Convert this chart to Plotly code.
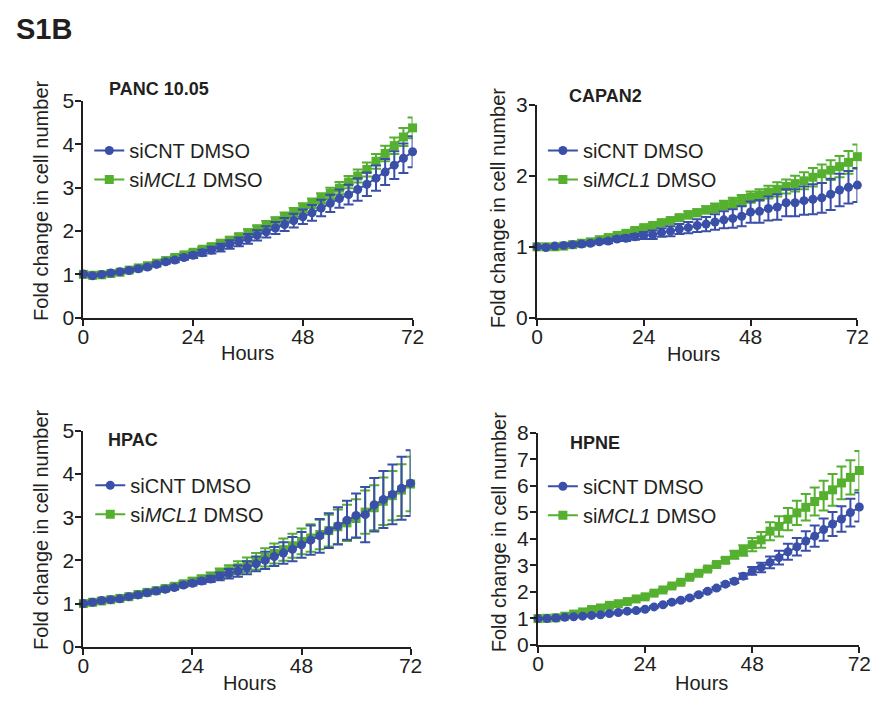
import plotly.graph_objects as go

W, H = 887, 709

hours = [0, 2, 4, 6, 8, 10, 12, 14, 16, 18, 20, 22, 24, 26, 28, 30, 32, 34, 36,
         38, 40, 42, 44, 46, 48, 50, 52, 54, 56, 58, 60, 62, 64, 66, 68, 70, 72]
x_ticks = [0, 24, 48, 72]

series_names = ["siCNT DMSO", "si<i>MCL1</i> DMSO"]
panel_titles = ["PANC 10.05", "CAPAN2", "HPAC", "HPNE"]
y_max = [5, 3, 5, 8]

# PANC 10.05
panc_cnt = [1.01, 0.97, 1.00, 1.03, 1.06, 1.09, 1.13, 1.17, 1.23, 1.29, 1.33, 1.39, 1.44,
            1.50, 1.56, 1.62, 1.69, 1.75, 1.82, 1.90, 1.98, 2.07, 2.15, 2.24, 2.33, 2.42,
            2.53, 2.64, 2.75, 2.84, 2.96, 3.08, 3.22, 3.36, 3.52, 3.68, 3.83]
panc_cnt_err = [0.02, 0.02, 0.02, 0.02, 0.02, 0.03, 0.03, 0.03, 0.04, 0.04, 0.05, 0.05, 0.06,
                0.07, 0.08, 0.09, 0.10, 0.10, 0.11, 0.12, 0.13, 0.14, 0.15, 0.16, 0.17, 0.18,
                0.19, 0.20, 0.21, 0.23, 0.26, 0.27, 0.29, 0.30, 0.32, 0.34, 0.36]
panc_mcl = [1.00, 0.98, 0.99, 1.02, 1.05, 1.10, 1.15, 1.20, 1.26, 1.32, 1.39, 1.45, 1.51,
            1.58, 1.64, 1.72, 1.79, 1.87, 1.96, 2.05, 2.14, 2.23, 2.33, 2.43, 2.53, 2.64,
            2.75, 2.87, 2.99, 3.13, 3.27, 3.42, 3.61, 3.79, 3.97, 4.17, 4.38]
panc_mcl_err = [0.01, 0.01, 0.01, 0.02, 0.02, 0.02, 0.03, 0.03, 0.03, 0.04, 0.04, 0.04, 0.05,
                0.05, 0.06, 0.06, 0.07, 0.07, 0.08, 0.08, 0.09, 0.09, 0.10, 0.10, 0.11, 0.11,
                0.12, 0.13, 0.14, 0.14, 0.15, 0.16, 0.17, 0.18, 0.19, 0.21, 0.24]

# CAPAN2
capan_cnt = [1.00, 0.99, 1.01, 1.02, 1.03, 1.04, 1.05, 1.07, 1.08, 1.11, 1.12, 1.14, 1.16,
             1.17, 1.20, 1.22, 1.25, 1.27, 1.30, 1.32, 1.35, 1.38, 1.40, 1.43, 1.49, 1.50,
             1.54, 1.56, 1.62, 1.62, 1.65, 1.67, 1.69, 1.74, 1.80, 1.84, 1.87]
capan_cnt_err = [0.01, 0.01, 0.01, 0.01, 0.02, 0.02, 0.02, 0.02, 0.03, 0.03, 0.04, 0.04, 0.05,
                 0.06, 0.06, 0.07, 0.07, 0.08, 0.09, 0.10, 0.11, 0.12, 0.13, 0.14, 0.15, 0.16,
                 0.17, 0.18, 0.19, 0.19, 0.20, 0.21, 0.21, 0.22, 0.23, 0.23, 0.24]
capan_mcl = [1.00, 1.00, 1.00, 1.01, 1.03, 1.05, 1.07, 1.10, 1.13, 1.16, 1.19, 1.23, 1.27,
             1.30, 1.34, 1.37, 1.41, 1.45, 1.48, 1.52, 1.55, 1.59, 1.62, 1.66, 1.70, 1.73,
             1.77, 1.81, 1.85, 1.89, 1.93, 1.98, 2.03, 2.08, 2.13, 2.19, 2.27]
capan_mcl_err = [0.01, 0.01, 0.01, 0.01, 0.01, 0.01, 0.02, 0.02, 0.02, 0.02, 0.03, 0.03, 0.03,
                 0.03, 0.04, 0.04, 0.04, 0.05, 0.05, 0.05, 0.06, 0.06, 0.07, 0.07, 0.08, 0.08,
                 0.09, 0.10, 0.10, 0.11, 0.12, 0.13, 0.13, 0.14, 0.15, 0.16, 0.17]

# HPAC
hpac_cnt = [1.00, 1.03, 1.07, 1.09, 1.11, 1.16, 1.20, 1.25, 1.29, 1.33, 1.37, 1.43, 1.47,
            1.52, 1.57, 1.63, 1.69, 1.75, 1.83, 1.92, 2.00, 2.09, 2.17, 2.26, 2.36, 2.47,
            2.57, 2.69, 2.80, 2.93, 3.04, 3.06, 3.29, 3.41, 3.53, 3.67, 3.79]
hpac_cnt_err = [0.02, 0.02, 0.02, 0.02, 0.02, 0.03, 0.03, 0.03, 0.03, 0.04, 0.04, 0.04, 0.05,
                0.06, 0.07, 0.09, 0.11, 0.13, 0.15, 0.17, 0.20, 0.22, 0.25, 0.28, 0.30, 0.34,
                0.39, 0.40, 0.43, 0.45, 0.51, 0.64, 0.62, 0.66, 0.69, 0.73, 0.76]
hpac_mcl = [1.00, 1.03, 1.06, 1.09, 1.12, 1.16, 1.21, 1.26, 1.30, 1.35, 1.40, 1.46, 1.52,
            1.57, 1.63, 1.70, 1.76, 1.83, 1.90, 1.98, 2.07, 2.16, 2.25, 2.34, 2.44, 2.52,
            2.60, 2.69, 2.78, 2.87, 2.97, 3.12, 3.22, 3.37, 3.50, 3.63, 3.77]
hpac_mcl_err = [0.02, 0.02, 0.02, 0.02, 0.03, 0.03, 0.03, 0.04, 0.04, 0.05, 0.05, 0.06, 0.07,
                0.08, 0.09, 0.11, 0.13, 0.15, 0.17, 0.19, 0.21, 0.23, 0.26, 0.28, 0.30, 0.32,
                0.34, 0.37, 0.40, 0.42, 0.45, 0.50, 0.52, 0.55, 0.57, 0.60, 0.63]

# HPNE
hpne_cnt = [0.99, 0.99, 1.01, 1.04, 1.06, 1.08, 1.11, 1.13, 1.18, 1.22, 1.27, 1.29, 1.34,
            1.43, 1.51, 1.61, 1.68, 1.77, 1.89, 2.02, 2.14, 2.29, 2.40, 2.59, 2.79, 2.92,
            3.11, 3.29, 3.51, 3.70, 3.92, 4.10, 4.35, 4.56, 4.75, 4.99, 5.20]
hpne_cnt_err = [0.02, 0.02, 0.02, 0.02, 0.02, 0.02, 0.02, 0.02, 0.03, 0.03, 0.03, 0.03, 0.03,
                0.03, 0.03, 0.04, 0.04, 0.04, 0.04, 0.04, 0.04, 0.05, 0.07, 0.10, 0.15, 0.18,
                0.22, 0.26, 0.30, 0.33, 0.37, 0.40, 0.42, 0.45, 0.48, 0.52, 0.55]
hpne_mcl = [0.99, 1.00, 1.02, 1.08, 1.16, 1.24, 1.33, 1.39, 1.49, 1.55, 1.63, 1.73, 1.81,
            1.95, 2.07, 2.22, 2.36, 2.55, 2.70, 2.86, 3.03, 3.19, 3.40, 3.56, 3.78, 3.96,
            4.29, 4.47, 4.74, 4.98, 5.19, 5.41, 5.63, 5.85, 6.11, 6.32, 6.58]
hpne_mcl_err = [0.03, 0.03, 0.03, 0.03, 0.03, 0.03, 0.04, 0.04, 0.04, 0.04, 0.04, 0.04, 0.05,
                0.05, 0.05, 0.05, 0.05, 0.05, 0.05, 0.06, 0.07, 0.10, 0.15, 0.20, 0.25, 0.30,
                0.34, 0.38, 0.42, 0.46, 0.50, 0.53, 0.56, 0.60, 0.62, 0.65, 0.74]

panel_data = [
    (panc_cnt, panc_cnt_err, panc_mcl, panc_mcl_err),
    (capan_cnt, capan_cnt_err, capan_mcl, capan_mcl_err),
    (hpac_cnt, hpac_cnt_err, hpac_mcl, hpac_mcl_err),
    (hpne_cnt, hpne_cnt_err, hpne_mcl, hpne_mcl_err),
]

BLUE = "#3A4FA8"
GREEN = "#55B030"
TXT = "#231F20"
FONT = "Liberation Sans, Arial, sans-serif"


def px(xp):
    return xp / W


def py(yp):
    return 1 - yp / H


# pixel boxes of each plot area: (left, right, bottom, top)
boxes = [(79, 415, 316, 92), (542, 869, 316, 96), (79, 413, 656, 433), (543, 871, 654, 435)]
# legend anchor (left px, top px)
leg_pos = [(85, 123), (548, 123), (86, 469), (548, 470)]
title_pos = [(103, 80), (573, 87), (102, 442), (574, 445)]
ylab_pos = [(35, 195), (503, 203), (35, 535), (503, 538)]
xlab_pos = [(247, 352), (702, 353), (249, 693), (710, 693)]

fig = go.Figure()
layout = dict(width=W, height=H, margin=dict(l=0, r=0, t=0, b=0),
              plot_bgcolor="white", paper_bgcolor="white", showlegend=True,
              font=dict(family=FONT, color=TXT))
annotations = []

for i, (cnt, cnt_e, mcl, mcl_e) in enumerate(panel_data):
    k = "" if i == 0 else str(i + 1)
    xa, ya = "x" + k, "y" + k
    leg = "legend" + k
    l, r, b, t = boxes[i]
    layout["xaxis" + k] = dict(
        domain=[px(l), px(r)], anchor=ya, range=[0, 72], tickvals=x_ticks,
        showline=True, linewidth=2, linecolor=TXT, ticks="outside", ticklen=6,
        tickwidth=2, tickcolor=TXT, showgrid=False, zeroline=False,
        ticklabelstandoff=-7,
        tickfont=dict(family=FONT, size=21, color=TXT))
    layout["yaxis" + k] = dict(
        domain=[py(b), py(t)], anchor=xa, range=[0, y_max[i]], dtick=1,
        showline=True, linewidth=2, linecolor=TXT, ticks="outside", ticklen=6,
        tickwidth=2, tickcolor=TXT, showgrid=False, zeroline=False,
        ticklabelstandoff=-3,
        tickfont=dict(family=FONT, size=21, color=TXT))
    lx, ly = leg_pos[i]
    layout[leg] = dict(x=px(lx), y=py(ly), xanchor="left", yanchor="top",
                       bgcolor="rgba(0,0,0,0)", borderwidth=0, tracegroupgap=0,
                       font=dict(family=FONT, size=20, color=TXT))
    # green drawn first, blue on top
    fig.add_trace(go.Scatter(
        x=hours, y=mcl, xaxis=xa, yaxis=ya, legend=leg, name=series_names[1],
        legendrank=2, mode="lines+markers", cliponaxis=False,
        line=dict(color=GREEN, width=2),
        marker=dict(symbol="square", size=9, color=GREEN),
        error_y=dict(type="data", array=mcl_e, visible=True, color=GREEN,
                     thickness=2, width=5)))
    fig.add_trace(go.Scatter(
        x=hours, y=cnt, xaxis=xa, yaxis=ya, legend=leg, name=series_names[0],
        legendrank=1, mode="lines+markers", cliponaxis=False,
        line=dict(color=BLUE, width=2),
        marker=dict(symbol="circle", size=9, color=BLUE),
        error_y=dict(type="data", array=cnt_e, visible=True, color=BLUE,
                     thickness=2, width=5)))
    tx, ty = title_pos[i]
    annotations.append(dict(text="<b>%s</b>" % panel_titles[i], x=px(tx), y=py(ty),
                            xref="paper", yref="paper", xanchor="left", yanchor="middle",
                            showarrow=False, font=dict(family=FONT, size=18, color=TXT)))
    yx, yy = ylab_pos[i]
    annotations.append(dict(text="Fold change in cell number", x=px(yx), y=py(yy),
                            xref="paper", yref="paper", xanchor="center", yanchor="middle",
                            textangle=-90, showarrow=False,
                            font=dict(family=FONT, size=20, color=TXT)))
    hx, hy = xlab_pos[i]
    annotations.append(dict(text="Hours", x=px(hx), y=py(hy), xref="paper", yref="paper",
                            xanchor="center", yanchor="middle", showarrow=False,
                            font=dict(family=FONT, size=20, color=TXT)))

annotations.append(dict(text="<b>S1B</b>", x=px(8), y=py(18), xref="paper", yref="paper",
                        xanchor="left", yanchor="middle", showarrow=False,
                        font=dict(family=FONT, size=29, color=TXT)))
layout["annotations"] = annotations
fig.update_layout(**layout)
fig.write_html("out.html")
